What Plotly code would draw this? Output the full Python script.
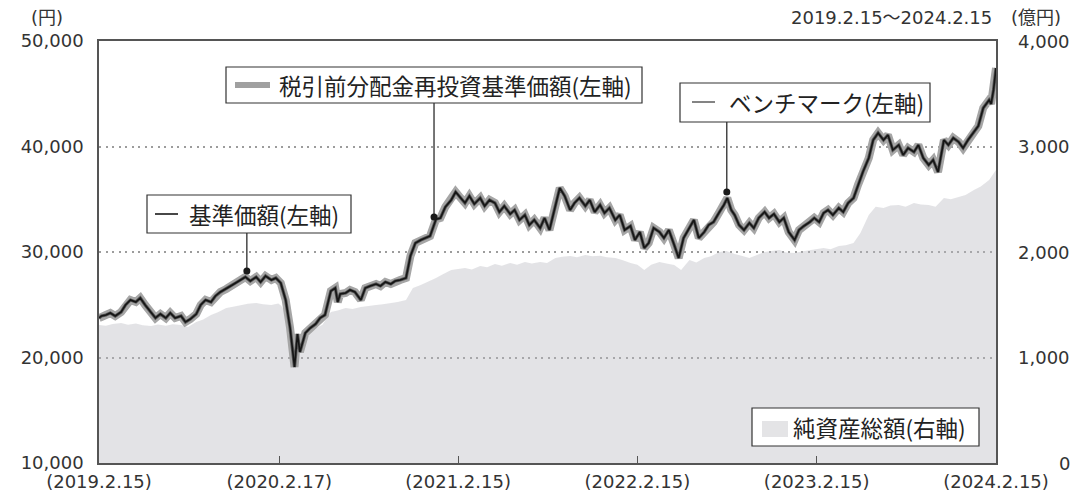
import plotly.graph_objects as go

# ---------------- data ----------------
# 基準価額 / 税引前分配金再投資基準価額 / ベンチマーク (円, left axis)
nav_dates = [
    # 2019
    "2019-02-15","2019-02-20","2019-03-01","2019-03-10","2019-03-20","2019-04-01","2019-04-10","2019-04-20",
    "2019-05-01","2019-05-10","2019-05-20","2019-06-01","2019-06-10","2019-06-20","2019-07-01","2019-07-10",
    "2019-07-20","2019-08-01","2019-08-10","2019-08-20","2019-09-01","2019-09-10","2019-09-20","2019-10-01",
    "2019-10-10","2019-10-20","2019-11-01","2019-11-10","2019-11-20","2019-12-01","2019-12-10","2019-12-20",
    # 2020
    "2020-01-01","2020-01-10","2020-01-20","2020-02-01","2020-02-10","2020-02-20",
    "2020-03-01","2020-03-10","2020-03-15","2020-03-19","2020-03-25","2020-03-30",
    "2020-04-10","2020-04-20","2020-05-01","2020-05-10","2020-05-20",
    "2020-06-01","2020-06-10","2020-06-15","2020-06-20",
    "2020-07-01","2020-07-10","2020-07-20","2020-08-01","2020-08-10","2020-08-20",
    "2020-09-01","2020-09-10","2020-09-20","2020-10-01","2020-10-10","2020-10-20",
    "2020-11-01","2020-11-10","2020-11-20","2020-12-01","2020-12-10","2020-12-20",
    # 2021
    "2021-01-01","2021-01-10","2021-01-20","2021-02-01","2021-02-10","2021-02-20",
    "2021-03-01","2021-03-10","2021-03-20","2021-04-01","2021-04-10","2021-04-20",
    "2021-05-01","2021-05-10","2021-05-20","2021-06-01","2021-06-10","2021-06-20",
    "2021-07-01","2021-07-10","2021-07-20","2021-08-01","2021-08-10","2021-08-20",
    "2021-09-01","2021-09-10","2021-09-20","2021-10-01","2021-10-10","2021-10-20",
    "2021-11-01","2021-11-10","2021-11-20","2021-12-01","2021-12-10","2021-12-20",
    # 2022
    "2022-01-01","2022-01-10","2022-01-20","2022-02-01","2022-02-10","2022-02-20",
    "2022-03-01","2022-03-10","2022-03-20","2022-04-01","2022-04-10","2022-04-20",
    "2022-05-01","2022-05-10","2022-05-20","2022-06-01","2022-06-10","2022-06-20",
    "2022-07-01","2022-07-10","2022-07-20","2022-08-01","2022-08-10","2022-08-17","2022-08-25",
    "2022-09-01","2022-09-10","2022-09-20","2022-10-01","2022-10-10","2022-10-20",
    "2022-11-01","2022-11-10","2022-11-20","2022-12-01","2022-12-10","2022-12-20",
    # 2023
    "2023-01-01","2023-01-10","2023-01-20","2023-02-01","2023-02-10","2023-02-20",
    "2023-03-01","2023-03-10","2023-03-20","2023-04-01","2023-04-10","2023-04-20",
    "2023-05-01","2023-05-10","2023-05-20","2023-06-01","2023-06-10","2023-06-20",
    "2023-07-01","2023-07-10","2023-07-20","2023-08-01","2023-08-10","2023-08-20",
    "2023-09-01","2023-09-10","2023-09-20","2023-10-01","2023-10-10","2023-10-20",
    "2023-11-01","2023-11-10","2023-11-20","2023-12-01","2023-12-10","2023-12-20",
    # 2024
    "2024-01-01","2024-01-10","2024-01-20","2024-02-01","2024-02-05","2024-02-10","2024-02-15",
]

nav = [
    # 2019
    23745,23934,24029,24219,23934,24313,24977,25451,
    25261,25640,24977,24313,23745,24124,23745,24219,
    23745,23934,23365,23650,24124,24977,25451,25261,
    25830,26209,26493,26778,27062,27347,27631,27252,
    # 2020
    27631,27157,27726,27347,27536,27062,
    25451,22797,20711,19100,22228,20522,
    22323,22797,23176,23745,24029,
    26304,26588,25261,26020,
    26114,26399,26209,25451,26588,26778,
    26967,26778,27157,26967,27252,27347,
    27536,29622,30854,31138,31328,31517,
    # 2021
    33100,33224,34266,34930,35688,35119,
    34645,35309,34551,35119,34361,34930,
    34645,33792,34361,33603,33982,33034,
    33508,32560,33034,32276,33224,32086,
    34456,36067,35309,33982,34645,35119,
    34361,34930,33792,34456,33698,34171,
    # 2022
    33034,33508,32086,32465,31138,31896,
    30380,30854,32276,31896,31328,32086,
    30664,29432,31328,32276,33034,31328,
    31896,32560,32844,33792,34456,35119,33982,
    33508,32560,32086,32750,32276,33224,
    33792,33224,33603,32844,33224,31896,
    # 2023
    31138,32086,32465,32844,33224,32844,
    33698,33982,33508,34171,33792,34645,
    35119,36352,37584,38911,40617,41281,
    40617,41091,39669,40143,39195,39859,
    39480,40143,38911,38247,38721,37584,
    40617,40143,40807,40428,39859,40617,
    # 2024
    41375,41944,43650,44409,44030,45357,47442,
]

reinvest = [
    23745,23934,24029,24219,23934,24313,24977,25451,
    25261,25640,24977,24313,23745,24124,23745,24219,
    23745,23934,23365,23650,24124,24977,25451,25261,
    25830,26209,26493,26778,27062,27347,27631,27252,
    27631,27157,27726,27347,27536,27062,
    25451,22797,20711,19100,22228,20522,
    22323,22797,23176,23745,24029,
    26304,26588,25261,26020,
    26114,26399,26209,25451,26588,26778,
    26967,26778,27157,26967,27252,27347,
    27536,29622,30854,31138,31328,31517,
    33100,33224,34266,34930,35688,35119,
    34645,35309,34551,35119,34361,34930,
    34645,33792,34361,33603,33982,33034,
    33508,32560,33034,32276,33224,32086,
    34456,36067,35309,33982,34645,35119,
    34361,34930,33792,34456,33698,34171,
    33034,33508,32086,32465,31138,31896,
    30380,30854,32276,31896,31328,32086,
    30664,29432,31328,32276,33034,31328,
    31896,32560,32844,33792,34456,35119,33982,
    33508,32560,32086,32750,32276,33224,
    33792,33224,33603,32844,33224,31896,
    31138,32086,32465,32844,33224,32844,
    33698,33982,33508,34171,33792,34645,
    35119,36352,37584,38911,40617,41281,
    40617,41091,39669,40143,39195,39859,
    39480,40143,38911,38247,38721,37584,
    40617,40143,40807,40428,39859,40617,
    41375,41944,43650,44409,44030,45357,47442,
]

bench = [
    23745,23934,24029,24219,23934,24313,24977,25451,
    25261,25640,24977,24313,23745,24124,23745,24219,
    23745,23934,23365,23650,24124,24977,25451,25261,
    25830,26209,26493,26778,27062,27347,27631,27252,
    27631,27157,27726,27347,27536,27062,
    25451,22797,20711,19100,22228,20522,
    22323,22797,23176,23745,24029,
    26304,26588,25261,26020,
    26114,26399,26209,25451,26588,26778,
    26967,26778,27157,26967,27252,27347,
    27536,29622,30854,31138,31328,31517,
    33100,33224,34266,34930,35688,35119,
    34645,35309,34551,35119,34361,34930,
    34645,33792,34361,33603,33982,33034,
    33508,32560,33034,32276,33224,32086,
    34456,36067,35309,33982,34645,35119,
    34361,34930,33792,34456,33698,34171,
    33034,33508,32086,32465,31138,31896,
    30380,30854,32276,31896,31328,32086,
    30664,29432,31328,32276,33034,31328,
    31896,32560,32844,33792,34456,35119,33982,
    33508,32560,32086,32750,32276,33224,
    33792,33224,33603,32844,33224,31896,
    31138,32086,32465,32844,33224,32844,
    33698,33982,33508,34171,33792,34645,
    35119,36352,37584,38911,40617,41281,
    40617,41091,39669,40143,39195,39859,
    39480,40143,38911,38247,38721,37584,
    40617,40143,40807,40428,39859,40617,
    41375,41944,43650,44409,44030,45357,47442,
]

# 純資産総額 (億円, right axis)
na_dates = [
    "2019-02-15","2019-03-01","2019-03-15","2019-04-01","2019-04-15","2019-05-01","2019-05-15","2019-06-01",
    "2019-06-15","2019-07-01","2019-07-15","2019-08-01","2019-08-15","2019-09-01","2019-09-15","2019-10-01",
    "2019-10-15","2019-11-01","2019-11-15","2019-12-01","2019-12-15",
    "2020-01-01","2020-01-15","2020-02-01","2020-02-15","2020-02-21","2020-03-01","2020-03-10","2020-03-19",
    "2020-03-25","2020-04-01","2020-04-15","2020-05-01","2020-05-15","2020-06-01","2020-06-15","2020-07-01",
    "2020-07-15","2020-08-01","2020-08-15","2020-09-01","2020-09-15","2020-10-01","2020-10-15","2020-11-01",
    "2020-11-15","2020-12-01","2020-12-15",
    "2021-01-01","2021-01-15","2021-02-01","2021-02-15","2021-03-01","2021-03-15","2021-04-01","2021-04-15",
    "2021-05-01","2021-05-15","2021-06-01","2021-06-15","2021-07-01","2021-07-15","2021-08-01","2021-08-15",
    "2021-09-01","2021-09-15","2021-10-01","2021-10-15","2021-11-01","2021-11-15","2021-12-01","2021-12-15",
    "2022-01-01","2022-01-15","2022-02-01","2022-02-15","2022-03-01","2022-03-15","2022-04-01","2022-04-15",
    "2022-05-01","2022-05-15","2022-06-01","2022-06-15","2022-07-01","2022-07-15","2022-08-01","2022-08-15",
    "2022-09-01","2022-09-15","2022-10-01","2022-10-15","2022-11-01","2022-11-15","2022-12-01","2022-12-15",
    "2023-01-01","2023-01-15","2023-02-01","2023-02-15","2023-03-01","2023-03-15","2023-04-01","2023-04-15",
    "2023-05-01","2023-05-15","2023-06-01","2023-06-15","2023-07-01","2023-07-15","2023-08-01","2023-08-15",
    "2023-09-01","2023-09-15","2023-10-01","2023-10-15","2023-11-01","2023-11-15","2023-12-01","2023-12-15",
    "2024-01-01","2024-01-15","2024-02-01","2024-02-15",
]

net_assets = [
    1308,1300,1318,1327,1310,1322,1305,1299,
    1312,1300,1315,1308,1290,1337,1360,1403,
    1430,1469,1480,1498,1510,
    1517,1505,1498,1512,1490,1420,1261,1119,
    1180,1213,1240,1280,1310,1431,1445,1469,
    1460,1479,1490,1498,1505,1517,1525,1545,
    1659,1687,1715,
    1754,1790,1829,1840,1848,1835,1867,1855,
    1886,1870,1896,1880,1905,1890,1905,1895,
    1943,1955,1962,1950,1972,1960,1965,1950,
    1943,1925,1896,1880,1829,1880,1905,1890,
    1877,1830,1924,1900,1943,1960,2000,2010,
    1980,1965,1943,1970,2000,2010,2019,1995,
    1990,2005,2019,2030,2038,2025,2057,2065,
    2085,2180,2351,2430,2417,2440,2446,2430,
    2465,2450,2446,2430,2512,2500,2521,2540,
    2588,2620,2683,2777,
]

x_tick_dates = ["2019-02-15","2020-02-17","2021-02-15","2022-02-15","2023-02-15","2024-02-15"]
x_tick_text = ["(2019.2.15)","(2020.2.17)","(2021.2.15)","(2022.2.15)","(2023.2.15)","(2024.2.15)"]
left_ticks = [10000, 20000, 30000, 40000, 50000]
left_tick_text = ["10,000","20,000","30,000","40,000","50,000"]
right_ticks = [0, 1000, 2000, 3000, 4000]
right_tick_text = ["0","1,000","2,000","3,000","4,000"]

# callouts: date of dot, value of dot, value at box bottom
callout_dates = ["2019-12-13", "2020-12-28", "2022-08-16"]
callout_values = [28200, 33320, 35690]
callout_box_bottom = [31800, 44120, 42320]

NUM_FONT = "DejaVu Sans, Noto Sans CJK JP"
JP_FONT = "Noto Sans CJK JP"

fig = go.Figure()

# net assets area -> primary y (right side values)
fig.add_trace(go.Scatter(
    x=na_dates, y=net_assets, yaxis="y", mode="lines",
    line=dict(width=0, color="rgba(185,185,192,0.4)"), fill="tozeroy", fillcolor="rgba(185,185,192,0.4)",
    hoverinfo="skip", showlegend=False,
))
# lines -> y2 (left side values)
fig.add_trace(go.Scatter(
    x=nav_dates, y=reinvest, yaxis="y2", mode="lines",
    line=dict(width=8, color="#a6a6a6"), showlegend=False,
))
fig.add_trace(go.Scatter(
    x=nav_dates, y=bench, yaxis="y2", mode="lines",
    line=dict(width=3.2, color="#555555"), showlegend=False,
))
fig.add_trace(go.Scatter(
    x=nav_dates, y=nav, yaxis="y2", mode="lines",
    line=dict(width=1.6, color="#151515"), showlegend=False,
))
fig.add_trace(go.Scatter(
    x=callout_dates, y=callout_values, yaxis="y2", mode="markers",
    marker=dict(size=7, color="#1a1a1a"), showlegend=False,
))

shapes = []
for d, v0, v1 in zip(callout_dates, callout_values, callout_box_bottom):
    shapes.append(dict(type="line", xref="x", yref="y2", x0=d, x1=d, y0=v0, y1=v1,
                       line=dict(color="#1a1a1a", width=1.2), layer="above"))


def px(xp):
    return (xp - 99) / 897.0


def py(yp):
    return (463 - yp) / 422.0


boxes = [
    (147, 351, 195, 233),
    (226, 642, 67, 103),
    (680, 930, 83, 122),
    (752, 979, 408, 446),
]
for x0, x1, y0, y1 in boxes:
    shapes.append(dict(type="rect", xref="paper", yref="paper",
                       x0=px(x0), x1=px(x1), y0=py(y1), y1=py(y0),
                       fillcolor="white", line=dict(color="#333333", width=1.2), layer="above"))

# swatches
shapes.append(dict(type="line", xref="paper", yref="paper", x0=px(155), x1=px(178), y0=py(214), y1=py(214),
                   line=dict(color="#1a1a1a", width=1.6), layer="above"))
shapes.append(dict(type="line", xref="paper", yref="paper", x0=px(235), x1=px(270), y0=py(85), y1=py(85),
                   line=dict(color="#a0a0a0", width=6), layer="above"))
shapes.append(dict(type="line", xref="paper", yref="paper", x0=px(692), x1=px(715), y0=py(102), y1=py(102),
                   line=dict(color="#666666", width=1.6), layer="above"))
shapes.append(dict(type="rect", xref="paper", yref="paper", x0=px(762), x1=px(788), y0=py(437), y1=py(421),
                   fillcolor="#e4e4e6", line=dict(width=0), layer="above"))

annotations = [
    dict(text="基準価額(左軸)", x=px(187), y=py(214)),
    dict(text="税引前分配金再投資基準価額(左軸)", x=px(277), y=py(85)),
    dict(text="ベンチマーク(左軸)", x=px(727), y=py(102)),
    dict(text="純資産総額(右軸)", x=px(791), y=py(427)),
]
for a in annotations:
    a.update(xref="paper", yref="paper", xanchor="left", yanchor="middle", showarrow=False,
             font=dict(family=JP_FONT, size=22.5, color="#222222"))

annotations += [
    dict(text="(円)", xref="paper", yref="paper", x=px(47), y=py(17), xanchor="center", yanchor="middle",
         showarrow=False, font=dict(family=NUM_FONT, size=18, color="#333333")),
    dict(text="2019.2.15～2024.2.15", xref="paper", yref="paper", x=px(994), y=py(17), xanchor="right",
         yanchor="middle", showarrow=False, font=dict(family=NUM_FONT, size=18, color="#333333")),
    dict(text="(億円)", xref="paper", yref="paper", x=px(1036), y=py(17), xanchor="center", yanchor="middle",
         showarrow=False, font=dict(family=NUM_FONT, size=18, color="#333333")),
]
# right-axis tick labels, right aligned like the original
for v, t in zip(right_ticks, right_tick_text):
    annotations.append(dict(text=t, xref="paper", yref="y", x=px(1072), y=v, xanchor="right",
                            yanchor="middle", showarrow=False,
                            font=dict(family=NUM_FONT, size=18, color="#333333")))

GRID_DASH = "2px,4.5px"

# the page body has an 8px margin, so the figure is 8px smaller than the window in each direction
fig.update_layout(
    width=1074, height=487,
    margin=dict(l=91, r=86, t=33, b=32, autoexpand=False),
    paper_bgcolor="white", plot_bgcolor="white",
    showlegend=False,
    shapes=shapes, annotations=annotations,
    xaxis=dict(
        type="date", range=["2019-02-15", "2024-02-15"], automargin=False,
        tickvals=x_tick_dates, ticktext=x_tick_text,
        ticks="inside", ticklen=7, tickcolor="#555555", tickwidth=1.2,
        showgrid=False, showline=True, linecolor="#555555", linewidth=1.5, mirror=True,
        tickfont=dict(family=NUM_FONT, size=18, color="#333333"),
        ticklabelstandoff=2,
        zeroline=False,
    ),
    yaxis=dict(
        side="right", range=[0, 4000], tickvals=right_ticks, automargin=False,
        showticklabels=False,
        ticks="", showgrid=True, gridcolor="#9c9c9c", griddash=GRID_DASH, gridwidth=2,
        showline=False, zeroline=False,
    ),
    yaxis2=dict(
        overlaying="y", side="left", range=[10000, 50000], tickvals=left_ticks, ticktext=left_tick_text,
        automargin=False,
        ticks="", showgrid=False,
        showline=True, linecolor="#555555", linewidth=1.5, mirror=True, zeroline=False,
        ticklabelstandoff=10,
        tickfont=dict(family=NUM_FONT, size=18, color="#333333"),
    ),
)

fig.write_html("out.html")
